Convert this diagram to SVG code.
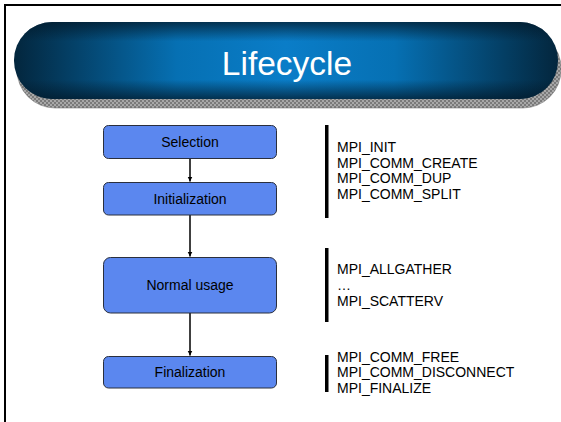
<svg xmlns="http://www.w3.org/2000/svg" width="561" height="422" viewBox="0 0 561 422">
<defs>
<linearGradient id="vg" x1="0" y1="0" x2="0" y2="1">
<stop offset="0" stop-color="#021a2b" stop-opacity="0.75"/>
<stop offset="0.25" stop-color="#021a2b" stop-opacity="0"/>
<stop offset="0.75" stop-color="#021a2b" stop-opacity="0"/>
<stop offset="1" stop-color="#021a2b" stop-opacity="0.75"/>
</linearGradient>
<linearGradient id="hg" x1="0" y1="0" x2="1" y2="0">
<stop offset="0" stop-color="#03263d"/>
<stop offset="0.3" stop-color="#0670b3"/>
<stop offset="0.5" stop-color="#0a7dc8"/>
<stop offset="0.7" stop-color="#0670b3"/>
<stop offset="1" stop-color="#03263d"/>
</linearGradient>
<pattern id="chk" width="4" height="4" patternUnits="userSpaceOnUse">
<rect width="4" height="4" fill="#a8a8a8"/>
<rect width="2" height="2" fill="#7a7a7a"/>
<rect x="2" y="2" width="2" height="2" fill="#7a7a7a"/>
</pattern>
<marker id="ah" markerWidth="6" markerHeight="6" refX="5" refY="3" orient="auto" markerUnits="userSpaceOnUse">
<path d="M0,0.5 L5,3 L0,5.5 Z" fill="#000"/>
</marker>
<style>
.box{fill:#5b87ef;stroke:#2a2f3d;stroke-width:1}
.bt{font-family:"Liberation Sans",Arial,sans-serif;font-size:14px;fill:#000;text-anchor:middle}
.lt{font-family:"Liberation Sans",Arial,sans-serif;font-size:14px;fill:#000}
.bar{fill:#000}
.con{stroke:#000;stroke-width:1.5;fill:none;marker-end:url(#ah)}
</style>
</defs>
<rect x="0" y="0" width="561" height="422" fill="#fff"/>
<rect x="5" y="5" width="600" height="500" fill="none" stroke="#000" stroke-width="2"/>
<g id="title">
<rect x="17" y="30" width="544" height="78" rx="38" fill="url(#chk)" stroke="#666" stroke-width="0.5"/>
<rect x="14" y="22" width="544" height="77" rx="38" fill="url(#hg)"/>
<rect x="14" y="22" width="544" height="77" rx="38" fill="url(#vg)"/>
<text x="287" y="75" font-family="Liberation Sans, Arial, sans-serif" font-size="33.5" fill="#fff" text-anchor="middle">Lifecycle</text>
</g>
<g id="connectors">
<line class="con" x1="190" y1="159" x2="190" y2="181.5"/>
<line class="con" x1="190" y1="215" x2="190" y2="256.5"/>
<line class="con" x1="190" y1="313" x2="190" y2="355.5"/>
</g>
<g id="selection">
<rect class="box" x="103.5" y="125.5" width="173" height="33" rx="5"/>
<text class="bt" x="190" y="147">Selection</text>
</g>
<g id="initialization">
<rect class="box" x="103.5" y="182.5" width="173" height="32.5" rx="5"/>
<text class="bt" x="190" y="203.5">Initialization</text>
</g>
<g id="normal-usage">
<rect class="box" x="103.5" y="257.5" width="173" height="55.5" rx="7"/>
<text class="bt" x="190" y="290">Normal usage</text>
</g>
<g id="finalization">
<rect class="box" x="103.5" y="356.5" width="173" height="31.5" rx="5"/>
<text class="bt" x="190" y="377">Finalization</text>
</g>
<g id="list-init">
<rect class="bar" x="325" y="125" width="3.5" height="93"/>
<text class="lt" x="337" y="152">MPI_INIT</text>
<text class="lt" x="337" y="167.5">MPI_COMM_CREATE</text>
<text class="lt" x="337" y="183">MPI_COMM_DUP</text>
<text class="lt" x="337" y="198.5">MPI_COMM_SPLIT</text>
</g>
<g id="list-usage">
<rect class="bar" x="325" y="248" width="3.5" height="74"/>
<text class="lt" x="337" y="273.5">MPI_ALLGATHER</text>
<text class="lt" x="337" y="289.5">…</text>
<text class="lt" x="337" y="306">MPI_SCATTERV</text>
</g>
<g id="list-final">
<rect class="bar" x="325" y="355" width="3.5" height="37"/>
<text class="lt" x="337" y="361.5">MPI_COMM_FREE</text>
<text class="lt" x="337" y="377">MPI_COMM_DISCONNECT</text>
<text class="lt" x="337" y="393">MPI_FINALIZE</text>
</g>
</svg>
